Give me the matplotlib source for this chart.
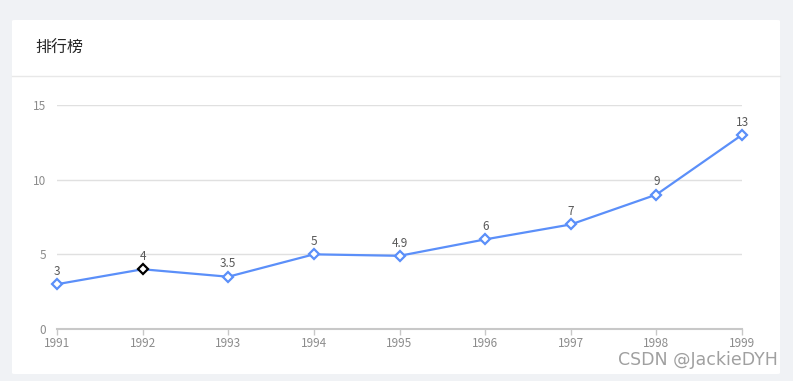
import matplotlib.pyplot as plt
from matplotlib.patches import FancyBboxPatch
from matplotlib.lines import Line2D

plt.rcParams['font.family'] = ['Noto Sans CJK SC', 'DejaVu Sans']

years = ['1991', '1992', '1993', '1994', '1995', '1996', '1997', '1998', '1999']
values = [3, 4, 3.5, 5, 4.9, 6, 7, 9, 13]
labels = ['3', '4', '3.5', '5', '4.9', '6', '7', '9', '13']
yticks = [0, 5, 10, 15]

W, H = 793, 381
fig = plt.figure(figsize=(W / 100, H / 100), dpi=100)
fig.patch.set_facecolor('#f0f2f5')

# white card behind everything
card = FancyBboxPatch((12 / W, 1 - 374 / H), (780 - 12) / W, (374 - 20) / H,
                      boxstyle='round,pad=0,rounding_size=0.003',
                      transform=fig.transFigure, facecolor='white', edgecolor='none',
                      zorder=-5)
fig.patches.append(card)
fig.add_artist(Line2D([12 / W, 780 / W], [1 - 76 / H, 1 - 76 / H],
                      transform=fig.transFigure, color='#e8e8e8', lw=1, zorder=-4))
fig.text(35 / W, 1 - 48 / H, '排行榜', fontsize=11.5, color='#262626', va='center')

ax = fig.add_axes([57 / W, 1 - 329 / H, (742 - 57) / W, (329 - 105) / H])
ax.set_facecolor('none')
x = list(range(len(years)))
ax.plot(x, values, color='#5b8ff9', lw=1.6, zorder=3)
for i, v in enumerate(values):
    ec = 'black' if i == 1 else '#5b8ff9'
    ax.plot(i, v, marker='D', ms=5.5, mfc='white', mec=ec, mew=1.6, zorder=4,
            clip_on=False)
    ax.annotate(labels[i], (i, v), xytext=(0, 4.5), textcoords='offset points',
                ha='center', va='bottom', fontsize=8.5, color='#595959')

ax.set_xlim(0, len(years) - 1)
ax.set_ylim(0, 15)
ax.set_yticks(yticks)
ax.set_xticks(x)
ax.set_xticklabels(years)
ax.grid(axis='y', color='#e0e0e0', lw=1)
ax.set_axisbelow(True)
for s in ['top', 'right', 'left']:
    ax.spines[s].set_visible(False)
ax.spines['bottom'].set_color('#c8c8c8')
ax.spines['bottom'].set_linewidth(1.5)
ax.tick_params(axis='x', colors='#c8c8c8', length=4, width=1, pad=1.5,
               labelcolor='#8c8c8c', labelsize=8.5)
ax.tick_params(axis='y', length=0, pad=8, labelcolor='#8c8c8c', labelsize=8.5)

fig.text(778 / W, 1 - 360 / H, 'CSDN @JackieDYH', fontsize=12.5, color='#a0a0a0',
         ha='right', va='center', family=['DejaVu Sans'])

fig.savefig('out.png', dpi=100, facecolor=fig.get_facecolor())
